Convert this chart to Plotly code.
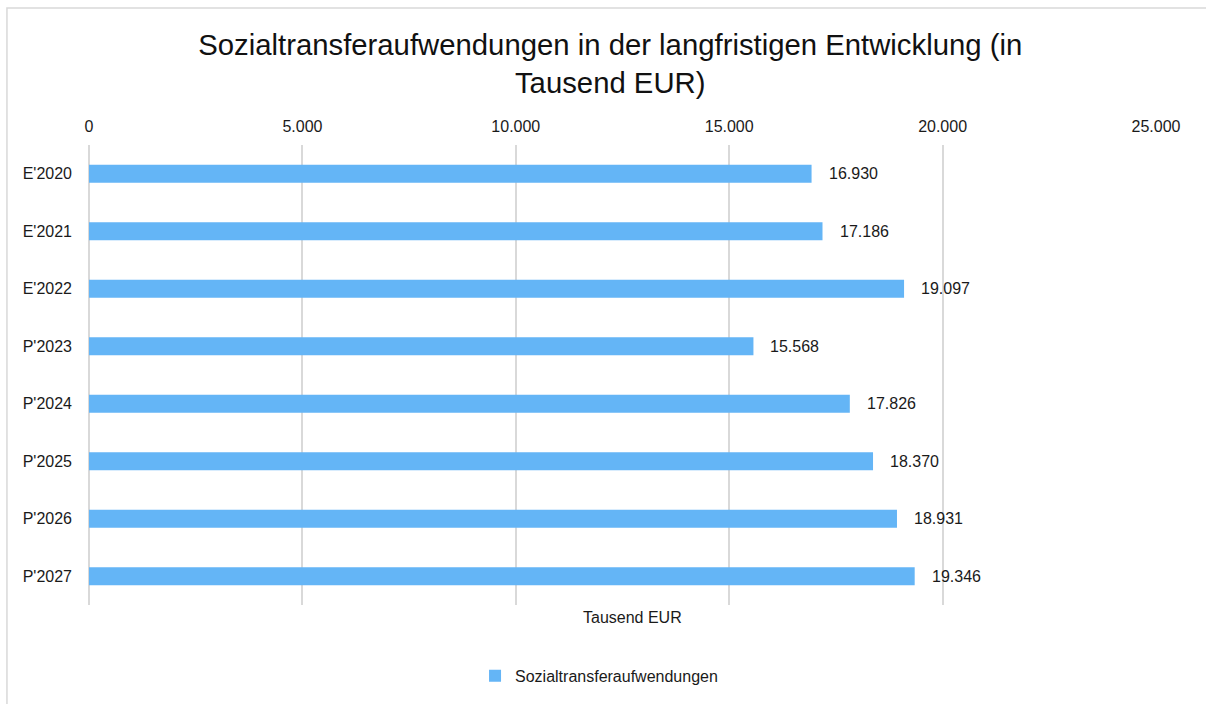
import plotly.graph_objects as go

categories = ["E'2020", "E'2021", "E'2022", "P'2023", "P'2024", "P'2025", "P'2026", "P'2027"]
values = [16930, 17186, 19097, 15568, 17826, 18370, 18931, 19346]
tick_vals = [0, 5000, 10000, 15000, 20000, 25000]
series_name = "Sozialtransferaufwendungen"

FONT = "Liberation Sans, Arial, sans-serif"
TXT = "#1a1a1a"

fig = go.Figure()
fig.add_trace(go.Bar(
    y=categories, x=values, orientation="h", name=series_name,
    marker=dict(color="#64B5F6", line=dict(width=0)), width=0.31,
    showlegend=True,
))

for c, v in zip(categories, values):
    fig.add_annotation(x=v, y=c, text=f"{v:,}".replace(",", "."), showarrow=False,
                       xanchor="left", xshift=15, font=dict(size=16, color=TXT, family=FONT))

fig.add_annotation(x=0.5, xref="paper", y=-0.004, yref="paper", yanchor="top",
                   text="Tausend EUR", showarrow=False, xshift=10,
                   font=dict(size=16, color=TXT, family=FONT))

fig.add_shape(type="rect", xref="paper", yref="paper",
              x0=-0.0769, x1=1.3, y0=-0.5, y1=1.2978,
              line=dict(color="#d9d9d9", width=1.5), fillcolor="rgba(0,0,0,0)", layer="below")

fig.update_layout(
    width=1206, height=704,
    margin=dict(l=89, r=50, t=145, b=99),
    paper_bgcolor="white", plot_bgcolor="white",
    separators=",.",
    font=dict(family=FONT, size=16, color=TXT),
    title=dict(text="Sozialtransferaufwendungen in der langfristigen Entwicklung (in<br>Tausend EUR)",
               x=0.506, xanchor="center", y=0.922, yanchor="top",
               font=dict(size=29.3, color="#111", family=FONT)),
    xaxis=dict(side="top", range=[0, 25000], tickvals=tick_vals, tickformat=",",
               showgrid=True, gridcolor="#d9d9d9", gridwidth=2,
               zeroline=True, zerolinecolor="#d9d9d9", zerolinewidth=2,
               showline=False, ticks="", tickfont=dict(size=16, color=TXT),
               ticklabelstandoff=9),
    yaxis=dict(autorange="reversed", showgrid=False, ticks="", showline=False,
               tickfont=dict(size=16, color=TXT), ticklabelstandoff=16),
    legend=dict(orientation="h", x=0.3618, xanchor="left", xref="paper",
                y=0.04, yanchor="middle", yref="container",
                font=dict(size=16, color=TXT)),
    bargap=0.69,
)

fig.write_html("out.html", config={"displayModeBar": False},
               post_script="document.body.style.margin='0';")
